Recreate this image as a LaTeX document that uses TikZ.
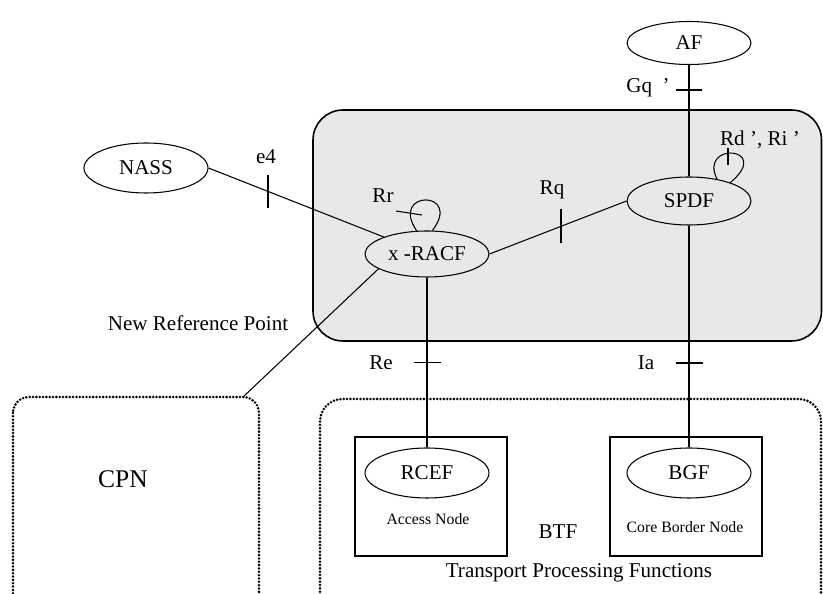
\documentclass[tikz,border=0pt]{standalone}
\usepackage{fontspec}
\setmainfont{Liberation Serif}
\usetikzlibrary{%
    shapes.geometric,%
    calc
}
\definecolor{panelgray}{HTML}{E8E8E8}

\begin{document}
\begin{tikzpicture}[x=0.02cm,y=-0.02cm,
 func/.style={draw,ellipse,line width=0.6pt,inner sep=0pt,
        minimum width=2.48cm,minimum height=0.92cm,font=\fontsize{12}{14}\selectfont},
 nodebox/.style={draw,line width=1.2pt,minimum width=3.04cm,minimum height=2.38cm,inner sep=0pt},
 dotbox/.style={line width=1.6pt,dash pattern=on 0pt off 1.9pt,line cap=round},
 link/.style={line width=0.6pt},
 refmark/.style={line width=1.1pt},
 lbl/.style={font=\fontsize{12}{14}\selectfont,inner sep=0pt},
 small/.style={font=\fontsize{9}{11}\selectfont,inner sep=0pt}]

\useasboundingbox (0,0) rectangle (823,594);
\clip (0,0) rectangle (823,594);

% control plane region
\draw[fill=panelgray,line width=0.9pt,rounded corners=0.6cm] (313,110) rectangle (821.5,341);

% dotted domains
\draw[dotbox,rounded corners=0.32cm] (13,397) rectangle (259,620);
\coordinate (cpncorner) at (243,397);
\draw[dotbox,rounded corners=0.45cm] (320,399) rectangle (821,620);

% transport boxes
\node[nodebox] (access) at (431,496.5) {};
\node[nodebox] (border) at (686,496.5) {};

% functions
\node[func,minimum height=1cm] (nass) at (146,168) {NASS};
\node[func,minimum height=0.86cm] (af) at (689,43) {AF};
\node[func] (racf) at (427,254) {x -RACF};
\node[func,minimum height=0.96cm] (spdf) at (689,201) {SPDF};
\node[func,minimum height=1cm] (rcef) at (427,473) {RCEF};
\node[func,minimum height=1cm] (bgf) at (689,473) {BGF};

% reference points
\draw[link] (nass.east) -- coordinate[pos=0.34] (e4mark) (racf);
\draw[refmark] (e4mark) ++(0,-16.5) -- ++(0,33);
\draw[link] (racf.east) -- coordinate[pos=0.52] (rqmark) (spdf.west);
\draw[refmark] (rqmark) ++(0,-17) -- ++(0,34);
\draw[link] (af) -- coordinate[pos=0.22] (gqmark) (spdf);
\draw[refmark] (gqmark) ++(-13,0) -- ++(26,0);
\draw[line width=1.5pt] (racf) -- coordinate[pos=0.5] (remark) (rcef);
\draw[refmark] (remark) ++(-13.5,0) -- ++(27,0);
\draw[line width=1.1pt] (spdf) -- coordinate[pos=0.62] (iamark) (bgf);
\draw[refmark] (iamark) ++(-13.5,0) -- ++(27,0);
\draw[link] (racf.197) -- (cpncorner);

% loops
\draw[link] (racf.114) .. controls +(-28,-41) and +(31,-41) .. (racf.77);
\draw[link] ([shift={(-31,-43)}]racf.center) -- ++(26,4);
\draw[link] (spdf.38) .. controls +(-19,-38) and +(43,-36) .. (spdf.24);
\draw[line width=0.9pt] ([shift={(39,-53)}]spdf.center) -- ++(0,17);

% labels
\node[lbl] at (266,157) {e4};
\node[lbl] at (383,196) {Rr};
\node[lbl] at (552,190) {Rq};
\node[lbl] at (760,140) {Rd\ ', Ri\ '};
\node[lbl] at (648,88) {Gq\ \ '};
\node[lbl] at (381,363) {Re};
\node[lbl] at (646,363) {Ia};
\node[lbl] at (198,323) {New Reference Point};
\node[font=\fontsize{14.5}{17}\selectfont,inner sep=0pt] at (123,479) {CPN};
\node[lbl] at (558,532) {BTF};
\node[lbl] at (579,573) {Transport Processing Functions};
\node[small] at (428,519) {Access Node};
\node[small] at (685,527) {Core Border Node};
\end{tikzpicture}
\end{document}
